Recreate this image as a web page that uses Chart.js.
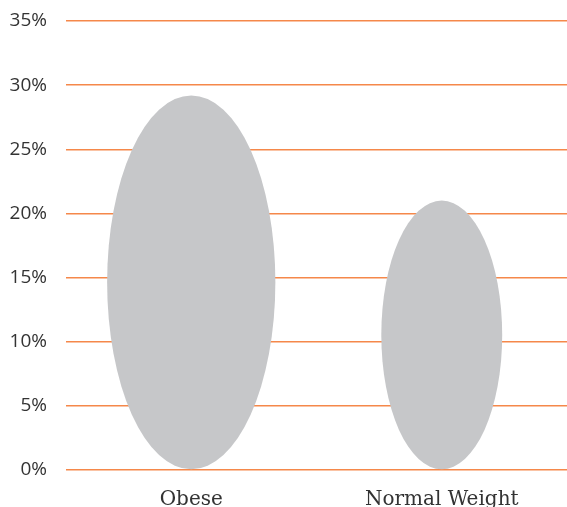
<!DOCTYPE html>
<html>
<head>
<meta charset="utf-8">
<script src="https://cdn.jsdelivr.net/npm/chart.js@4"></script>
<style>
  html, body { margin: 0; padding: 0; background: #fff; }
  #wrap { width: 567px; height: 507px; }
</style>
</head>
<body>
<div id="wrap"><canvas id="chart"></canvas></div>
<script>
var categories = ['Obese', 'Normal Weight'];
var shares = [29.2, 21.0];
var yMax = 35;
var yStep = 5;

// bars are drawn as ellipses, width follows the bar height
var ellipsePlugin = {
  id: 'ellipses',
  afterDatasetsDraw: function(chart) {
    var ctx = chart.ctx;
    chart.getDatasetMeta(0).data.forEach(function(bar) {
      var h = bar.base - bar.y;
      var rx = h * 0.225;
      ctx.save();
      ctx.fillStyle = '#c6c7c9';
      ctx.beginPath();
      ctx.ellipse(bar.x, (bar.y + bar.base) / 2, rx, h / 2, 0, 0, Math.PI * 2);
      ctx.fill();
      ctx.restore();
    });
  }
};

var ctx = document.getElementById('chart').getContext('2d');
var chart = new Chart(ctx, {
  type: 'bar',
  data: {
    labels: categories,
    datasets: [{
      data: shares,
      backgroundColor: 'rgba(0,0,0,0)',
      borderWidth: 0
    }]
  },
  options: {
    responsive: true,
    maintainAspectRatio: false,
    animation: false,
    layout: { padding: { top: 21, right: 0, left: 0, bottom: 0 } },
    plugins: {
      legend: { display: false },
      tooltip: { enabled: false }
    },
    scales: {
      x: {
        grid: { display: false, drawTicks: false },
        border: { display: false },
        ticks: {
          padding: 18,
          color: '#333',
          font: { family: 'DejaVu Serif', size: 20 }
        },
        afterFit: function(scale) {
          scale.height = 37;
          scale.paddingLeft = 0;
          scale.paddingRight = 0;
        }
      },
      y: {
        min: 0,
        max: yMax,
        grid: { color: '#f5884a', lineWidth: 1.5, drawTicks: false },
        border: { display: false },
        ticks: {
          stepSize: yStep,
          padding: 19,
          color: '#333',
          font: { family: 'Open Sans', size: 19 },
          callback: function(v) { return v + '%'; }
        },
        afterFit: function(scale) {
          scale.width = 66;
          scale.paddingTop = 0;
          scale.paddingBottom = 0;
        }
      }
    }
  },
  plugins: [ellipsePlugin]
});
</script>
</body>
</html>
